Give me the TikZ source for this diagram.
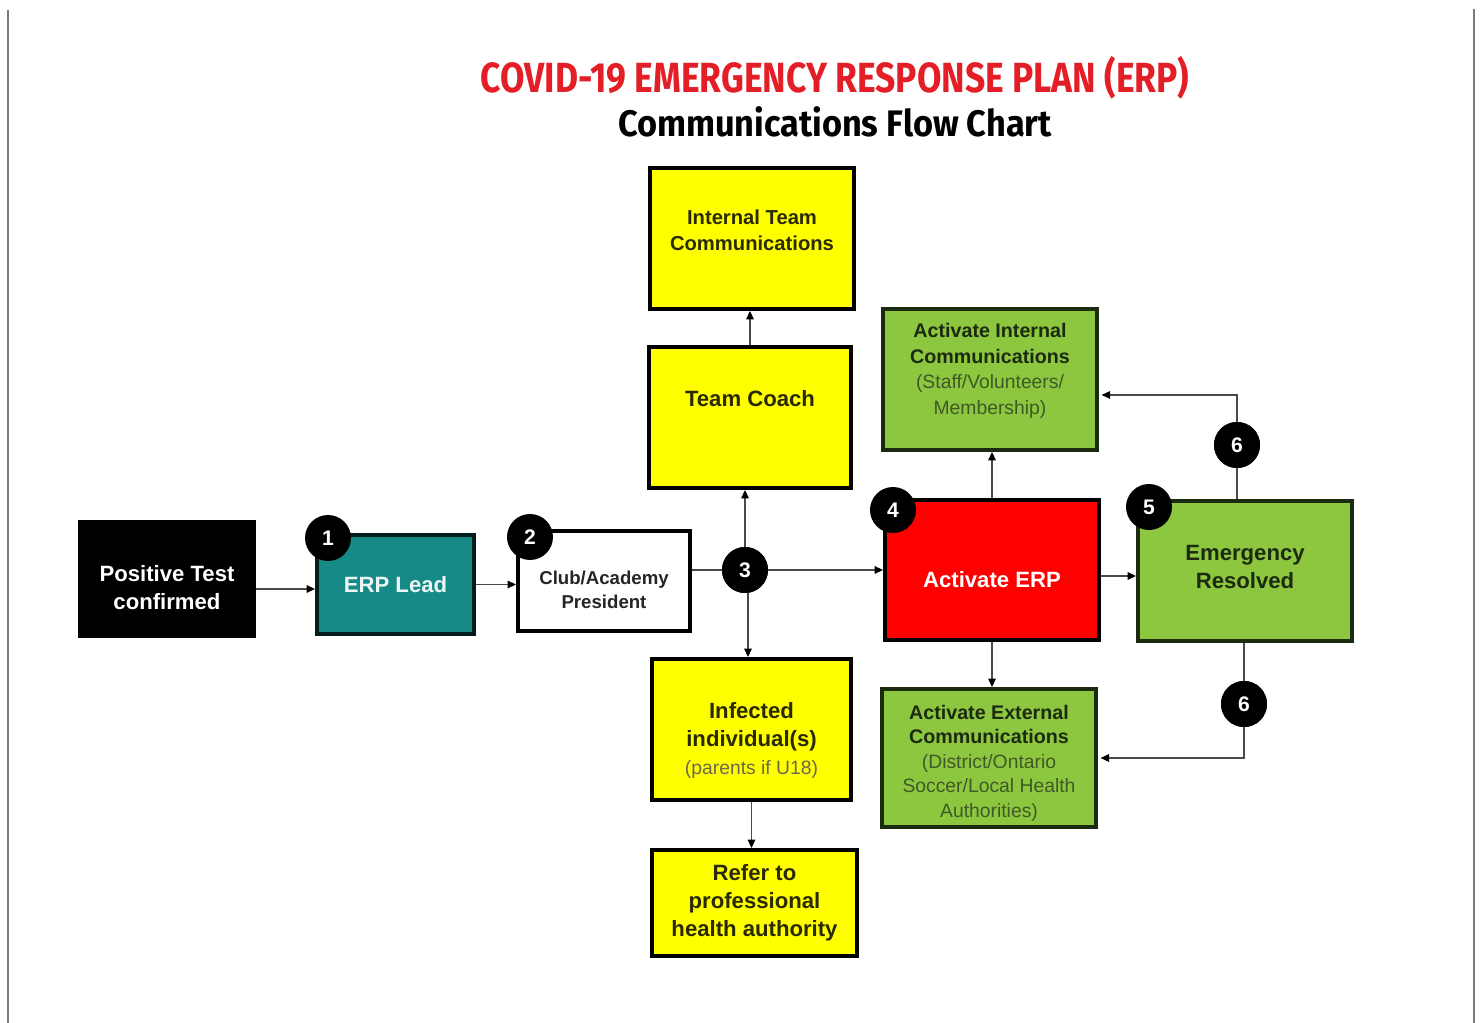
\documentclass[tikz,border=0pt]{standalone}
\usepackage{fontspec}
\setmainfont{Liberation Sans}
\newfontfamily\erpheadfont[FakeStretch=0.84]{Fira Sans}
\newfontfamily\erpsubheadfont[FakeStretch=0.93]{Fira Sans}
\usepackage{xcolor}
\usepackage{tikz}
\usetikzlibrary{arrows.meta}
\definecolor{erpYellow}{HTML}{FFFF00}
\definecolor{erpGreen}{HTML}{8DC63F}
\definecolor{erpRed}{HTML}{FF0000}
\definecolor{erpTeal}{HTML}{168A87}
\definecolor{erpTitle}{HTML}{E41E26}
\definecolor{erpInk}{HTML}{1C2A10}
\definecolor{erpOlive}{HTML}{2A2A00}
\definecolor{erpMuted}{HTML}{3E5A26}
\definecolor{erpLine}{HTML}{4A4A4A}
\definecolor{erpFrame}{HTML}{7A7A7A}
\newcommand\erpsub{\mdseries\fontsize{11}{13}\selectfont}
% struts that push a box text down (first line) or up (last line)
\newcommand\erplower[1]{\rule{0pt}{#1}}
\newcommand\erpraise[1]{\rule[-#1]{0pt}{#1}}
\tikzset{
  erp diagram/.style={line cap=butt, line join=miter},
  erp box/.style={draw=black, line width=2.2pt, align=center, inner sep=2pt,
    font=\bfseries\fontsize{12.6}{16}\selectfont},
  erp yellow/.style={erp box, fill=erpYellow, text=erpOlive},
  erp green/.style={erp box, fill=erpGreen, text=erpInk, draw=erpInk},
  erp badge/.style={circle, fill=black, text=white, minimum size=0.92cm,
    inner sep=0pt, font=\bfseries\fontsize{12}{12}\selectfont},
  erp arrow/.style={-{Triangle[length=1.7mm, width=1.5mm, color=black]},
    draw=erpLine, line width=0.8pt},
  erp return/.style={draw=erpLine, line width=0.8pt}
}
\begin{document}
\begin{tikzpicture}[erp diagram]
\begin{scope}[x=0.02cm, y=-0.02cm]
\useasboundingbox (0,0) rectangle (1481,1023);
\draw[erpFrame, line width=1.2pt] (8,10) -- (8,1023);
\draw[erpFrame, line width=1.2pt] (1474,9) -- (1474,1023);
% heading
\node[text=erpTitle, font=\erpheadfont\bfseries\fontsize{24}{24}\selectfont] (title) at (835,78) {COVID-19 EMERGENCY RESPONSE PLAN (ERP)};
\node[text=black, font=\erpsubheadfont\bfseries\fontsize{21}{21}\selectfont] (subtitle) at (835,122) {Communications Flow Chart};
% boxes
\node[erp box, fill=black, text=white, minimum width=3.48cm, minimum height=2.28cm] (pos) at (167,579) {\erplower{0.68cm}Positive Test\\confirmed};
\node[erp box, fill=erpTeal, text=white!92!erpTeal, draw=black!80!erpTeal, minimum width=3.14cm, minimum height=1.98cm] (lead) at (395.5,584.5) {ERP Lead};
\node[erp box, fill=white, text=black!85, minimum width=3.44cm, minimum height=2cm, font=\bfseries\fontsize{10.6}{13.5}\selectfont] (pres) at (604,581) {\erplower{0.61cm}Club/Academy\\President};
\node[erp yellow, minimum width=4.08cm, minimum height=2.82cm, font=\bfseries\fontsize{11.5}{15}\selectfont] (itc) at (752,238.5) {Internal Team\\Communications\erpraise{0.32cm}};
\node[erp yellow, minimum width=4.04cm, minimum height=2.82cm, text depth=0.76cm] (coach) at (750,417.5) {Team Coach};
\node[erp yellow, minimum width=3.98cm, minimum height=2.82cm] (inf) at (751.5,729.5) {\erplower{0.76cm}Infected\\individual(s)\\{\erpsub\color{erpOlive!70}(parents if U18)}};
\node[erp yellow, minimum width=4.1cm, minimum height=2.12cm] (refer) at (754.5,903) {Refer to\\professional\\health authority};
\node[erp green, minimum width=4.28cm, minimum height=2.82cm, font=\bfseries\fontsize{11.2}{14.5}\selectfont] (aint) at (990,379.5) {Activate Internal\\Communications\\{\erpsub\color{erpMuted}(Staff/Volunteers/}\\{\erpsub\color{erpMuted}Membership)\erpraise{0.42cm}}};
\node[erp box, fill=erpRed, text=white, minimum width=4.28cm, minimum height=2.8cm, text height=0.72cm] (erp) at (992,570) {Activate ERP};
\node[erp green, minimum width=4.28cm, minimum height=2.76cm, font=\bfseries\fontsize{11.2}{14}\selectfont] (aext) at (989,758) {\erplower{0.49cm}Activate External\\Communications\\{\erpsub\color{erpMuted}(District/Ontario}\\{\erpsub\color{erpMuted}Soccer/Local Health}\\{\erpsub\color{erpMuted}Authorities)}};
\node[erp green, minimum width=4.28cm, minimum height=2.8cm] (res) at (1245,571) {Emergency\\Resolved\erpraise{0.16cm}};
% numbered steps
\node[erp badge] (b1) at (328,538) {1};
\node[erp badge] (b2) at (530,537) {2};
\node[erp badge] (b3) at (745,570) {3};
\node[erp badge] (b4) at (893,510) {4};
\node[erp badge] (b5) at (1149,507) {5};
\node[erp badge] (b6a) at (1237,445) {6};
\node[erp badge] (b6b) at (1244,704) {6};
\coordinate (r1) at (1237,395);
% connectors
\draw[erp arrow] ([yshift=-0.2cm]pos.east) -- ([yshift=-0.2cm]pos.east -| lead.west);
\draw[erp arrow] (lead.east) -- (lead.east -| pres.west);
\draw[erp return] (pres.east |- b3) -- (b3);
\draw[erp arrow] (b3) -- (b3 -| erp.west);
\draw[erp arrow] (b3) -- (b3 |- coach.south);
\draw[erp arrow] ([xshift=0.06cm]b3.center) -- ([xshift=0.06cm]b3 |- inf.north);
\draw[erp arrow] (coach.north) -- (coach.north |- itc.south);
\draw[erp arrow] (inf.south) -- (inf.south |- refer.north);
\draw[erp arrow] (erp.north) -- (erp.north |- aint.south);
\draw[erp arrow] (erp.south) -- (erp.south |- aext.north);
\draw[erp arrow] ([yshift=-0.12cm]erp.east) -- ([yshift=-0.12cm]erp.east -| res.west);
\draw[erp return] (b6a |- res.north) -- (b6a);
\draw[erp arrow] (b6a) -- (r1) -- ([xshift=1.5pt]r1 -| aint.east);
\draw[erp return] (b6b |- res.south) -- (b6b);
\draw[erp arrow] (b6b) |- ([xshift=1.5pt]aext.east);
% badges again on top of lines
\foreach \b/\n in {b3/3, b6a/6, b6b/6}
  \node[erp badge] at (\b) {\n};
\end{scope}
\end{tikzpicture}
\end{document}
